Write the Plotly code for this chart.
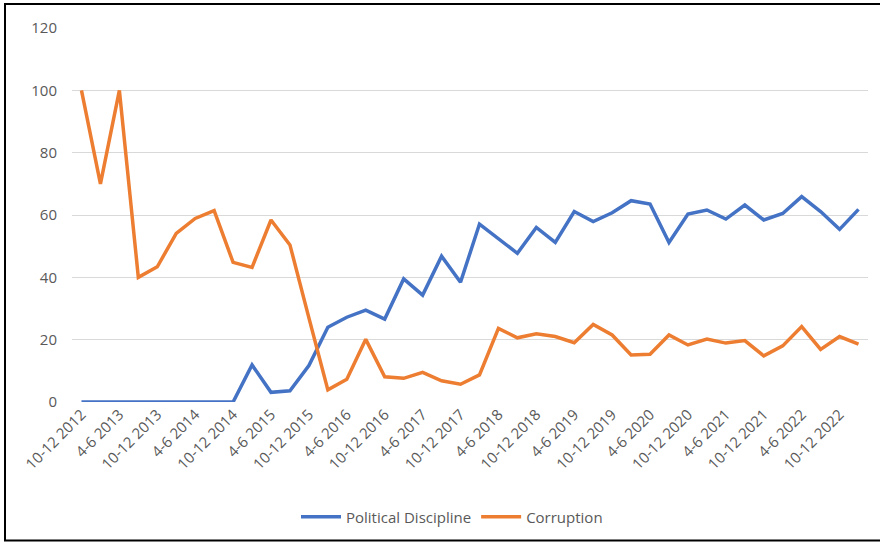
import plotly.graph_objects as go

# Quarterly categories, 10-12 2012 .. 1-3 2023
quarters = []
qnames = ["1-3", "4-6", "7-9", "10-12"]
quarters.append("10-12 2012")
for yr in range(2013, 2023):
    for q in qnames:
        quarters.append(f"{q} {yr}")
quarters.append("1-3 2023")

political_discipline = [0, 0, 0, 0, 0, 0, 0, 0, 0, 11.9, 3.1, 3.6, 11.7, 24.0, 27.2, 29.5,
                        26.6, 39.5, 34.3, 46.8, 38.4, 57.1, 52.5, 47.7, 56.0, 51.2, 61.1,
                        57.9, 60.7, 64.6, 63.5, 51.2, 60.3, 61.6, 58.7, 63.2, 58.4, 60.5,
                        65.9, 61.1, 55.4, 61.8]
corruption = [100, 70, 100, 40, 43.4, 54.1, 58.9, 61.4, 44.8, 43.2, 58.4, 50.4, 27, 3.9,
              7.3, 20.1, 8.1, 7.6, 9.5, 6.8, 5.7, 8.7, 23.6, 20.6, 21.9, 21.0, 19.0, 24.9,
              21.5, 15.1, 15.3, 21.5, 18.3, 20.2, 18.9, 19.7, 14.8, 18.0, 24.2, 16.9, 21.0,
              18.6]
tick_labels = quarters[0:41:2]
y_ticks = [0, 20, 40, 60, 80, 100, 120]

fig = go.Figure()
fig.add_trace(go.Scatter(x=quarters, y=political_discipline, mode="lines",
                         name="Political Discipline",
                         line=dict(color="#4472C4", width=3.5)))
fig.add_trace(go.Scatter(x=quarters, y=corruption, mode="lines",
                         name="Corruption",
                         line=dict(color="#ED7D31", width=3.5)))

L, R, T, B = 72, 12, 28, 140
W, H = 880, 542
pw, ph = W - L - R, H - T - B

def px2paper_x(px):
    return (px - L) / pw

def px2paper_y(py):
    return (H - B - py) / ph

fig.add_shape(type="rect", xref="paper", yref="paper",
              x0=px2paper_x(5), x1=px2paper_x(884),
              y0=px2paper_y(540.5), y1=px2paper_y(4),
              line=dict(color="black", width=2), fillcolor="rgba(0,0,0,0)", layer="above")

fig.update_layout(
    width=W, height=H,
    margin=dict(l=L, r=R, t=T, b=B, autoexpand=False),
    paper_bgcolor="white", plot_bgcolor="white",
    font=dict(family="Open Sans", size=15, color="#595959"),
    showlegend=True,
    legend=dict(orientation="h", x=px2paper_x(452), xanchor="center",
                y=px2paper_y(517), yanchor="middle",
                font=dict(size=15, color="#595959"),
                itemwidth=40, tracegroupgap=0),
    xaxis=dict(type="category", categoryorder="array", categoryarray=quarters,
               range=[-0.5, len(quarters) - 0.5], automargin=False,
               tickmode="array", tickvals=tick_labels, ticktext=tick_labels,
               tickangle=-45, showgrid=False, showline=False, zeroline=False,
               ticks="", tickfont=dict(size=15, color="#595959")),
    yaxis=dict(range=[0, 120], tickmode="array", tickvals=y_ticks, automargin=False,
               showgrid=True, gridcolor="#D9D9D9", gridwidth=1.3,
               zeroline=False, showline=False, ticks="",
               ticklabelstandoff=14,
               tickfont=dict(size=15, color="#595959")),
)

fig.write_html("out.html")
